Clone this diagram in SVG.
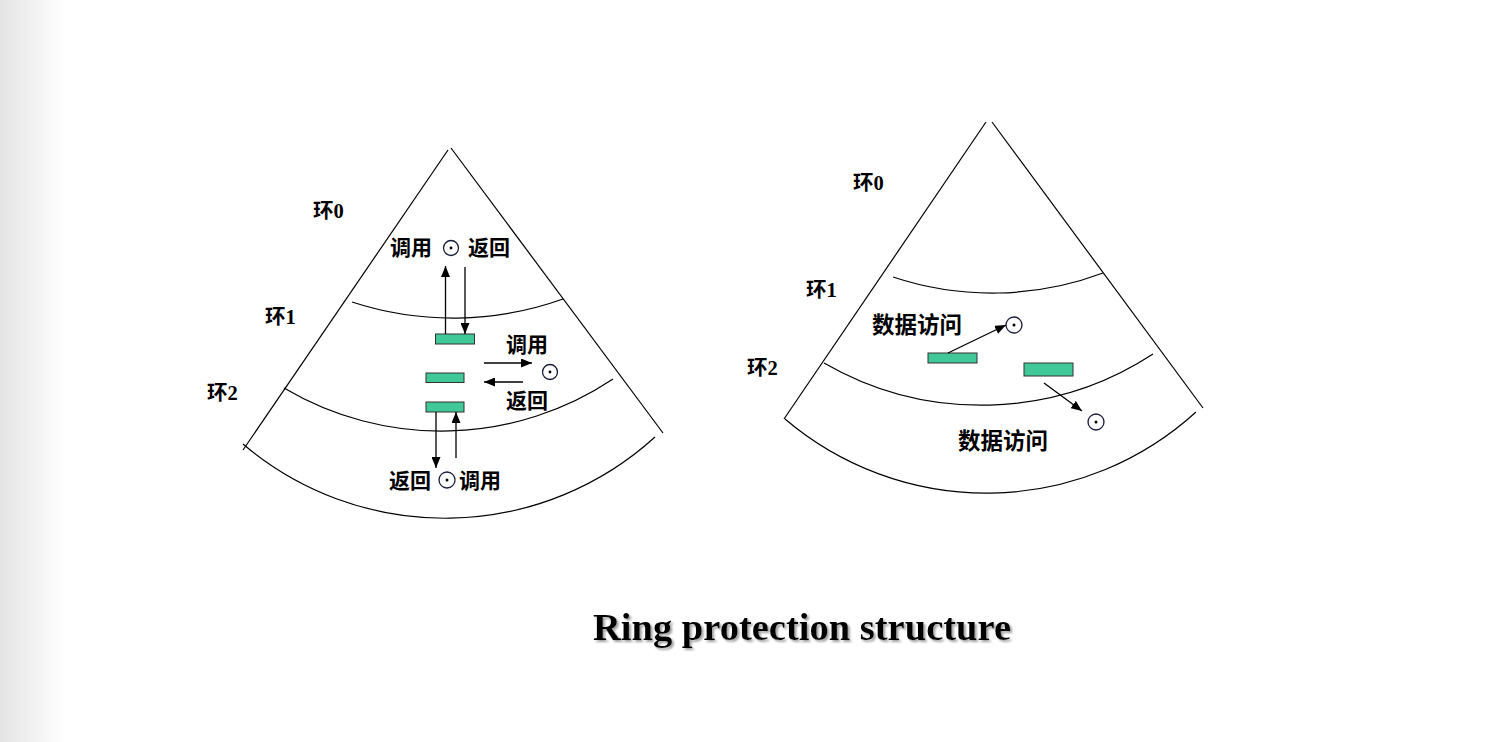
<svg xmlns="http://www.w3.org/2000/svg" width="1492" height="742" viewBox="0 0 1492 742">
<defs>
<linearGradient id="bg" x1="0" y1="0" x2="1" y2="0">
<stop offset="0" stop-color="#e4e4e4"/>
<stop offset="1" stop-color="#ffffff"/>
</linearGradient>
<marker id="ah" markerUnits="userSpaceOnUse" markerWidth="11" markerHeight="9" refX="11" refY="4.5" orient="auto">
<path d="M0,0 L11,4.5 L0,9 z" fill="#000"/>
</marker>
<filter id="shadow" x="-5%" y="-20%" width="110%" height="150%">
<feDropShadow dx="2" dy="2" stdDeviation="1" flood-color="#888" flood-opacity="0.8"/>
</filter>
<style>
.edge{fill:none;stroke:#000;stroke-width:1.2}
.conn{fill:none;stroke:#000;stroke-width:1.3;marker-end:url(#ah)}
.box{fill:#40C898;stroke:#333;stroke-width:1}
.pt{fill:#fff;stroke:#1a1a3a;stroke-width:1.3}
.dot{fill:#000}
.lbl{font-family:"Liberation Serif","Noto Sans CJK SC",serif;font-weight:bold;font-size:20.5px;fill:#000}
.cn{font-family:"Noto Sans CJK SC",sans-serif;font-weight:bold;font-size:21px;fill:#000}
.cn2{font-family:"Noto Sans CJK SC",sans-serif;font-weight:bold;font-size:22.5px;fill:#000}
.title{font-family:"Liberation Serif",serif;font-weight:bold;font-size:37px;fill:#000}
</style>
</defs>
<rect x="0" y="0" width="1492" height="742" fill="#fff"/>
<rect x="0" y="0" width="66" height="742" fill="url(#bg)"/>

<g id="fan-left">
<path class="edge" d="M448,150 L243,450"/>
<path class="edge" d="M451,148 L663,433"/>
<path class="edge" d="M352,302 A326,326 0 0 0 563,299"/>
<path class="edge" d="M284,388 A309,309 0 0 0 613,379"/>
<path class="edge" d="M243,444 A312,312 0 0 0 655,437"/>
</g>
<g id="fan-right">
<path class="edge" d="M986,122 L784,419"/>
<path class="edge" d="M992,122 L1203,408"/>
<path class="edge" d="M893,277 A315,315 0 0 0 1103,273"/>
<path class="edge" d="M824,363 A314,314 0 0 0 1153,354"/>
<path class="edge" d="M785,419 A311,311 0 0 0 1196,412"/>
</g>

<g id="left-ring-labels">
<text class="lbl" x="313" y="218">环0</text>
<text class="lbl" x="265" y="324">环1</text>
<text class="lbl" x="207" y="400">环2</text>
</g>
<g id="right-ring-labels">
<text class="lbl" x="853" y="190">环0</text>
<text class="lbl" x="806" y="297">环1</text>
<text class="lbl" x="747" y="375">环2</text>
</g>

<g id="seg-a"><rect class="box" x="435.5" y="334" width="39" height="10"/></g>
<g id="seg-b"><rect class="box" x="426" y="373" width="38" height="9.5"/></g>
<g id="seg-c"><rect class="box" x="426" y="402" width="38" height="10"/></g>
<g id="seg-d"><rect class="box" x="928" y="353" width="49" height="10"/></g>
<g id="seg-e"><rect class="box" x="1024" y="363" width="49" height="13"/></g>

<g id="gate-top">
<text class="cn" x="390" y="255">调用</text>
<circle class="pt" cx="451" cy="248" r="7.5"/><circle class="dot" cx="451" cy="248" r="1.4"/>
<text class="cn" x="468" y="255">返回</text>
</g>
<g id="gate-mid">
<text class="cn" x="506" y="352">调用</text>
<circle class="pt" cx="550" cy="372" r="7.5"/><circle class="dot" cx="550" cy="372" r="1.4"/>
<text class="cn" x="506" y="408">返回</text>
</g>
<g id="gate-bottom">
<text class="cn" x="389" y="488">返回</text>
<circle class="pt" cx="447" cy="480" r="8"/><circle class="dot" cx="447" cy="480" r="1.5"/>
<text class="cn" x="459" y="488">调用</text>
</g>
<g id="data-ring1">
<text class="cn2" x="872" y="333">数据访问</text>
<circle class="pt" cx="1014" cy="325" r="8"/><circle class="dot" cx="1014" cy="325" r="1.5"/>
</g>
<g id="data-ring2">
<text class="cn2" x="958" y="449">数据访问</text>
<circle class="pt" cx="1096" cy="422" r="8"/><circle class="dot" cx="1096" cy="422" r="1.5"/>
</g>

<g id="connectors">
<path class="conn" d="M445.5,334 L445.5,266"/>
<path class="conn" d="M465,267 L465,334"/>
<path class="conn" d="M484,363 L532,363"/>
<path class="conn" d="M523,382 L484,382"/>
<path class="conn" d="M436,412 L436,468"/>
<path class="conn" d="M456,458 L456,412"/>
<path class="conn" d="M948,353 L1006,325"/>
<path class="conn" d="M1044,383 L1082,411"/>
</g>

<g id="title">
<text class="title" x="593" y="640" textLength="418" lengthAdjust="spacingAndGlyphs" filter="url(#shadow)">Ring protection structure</text>
</g>
</svg>
